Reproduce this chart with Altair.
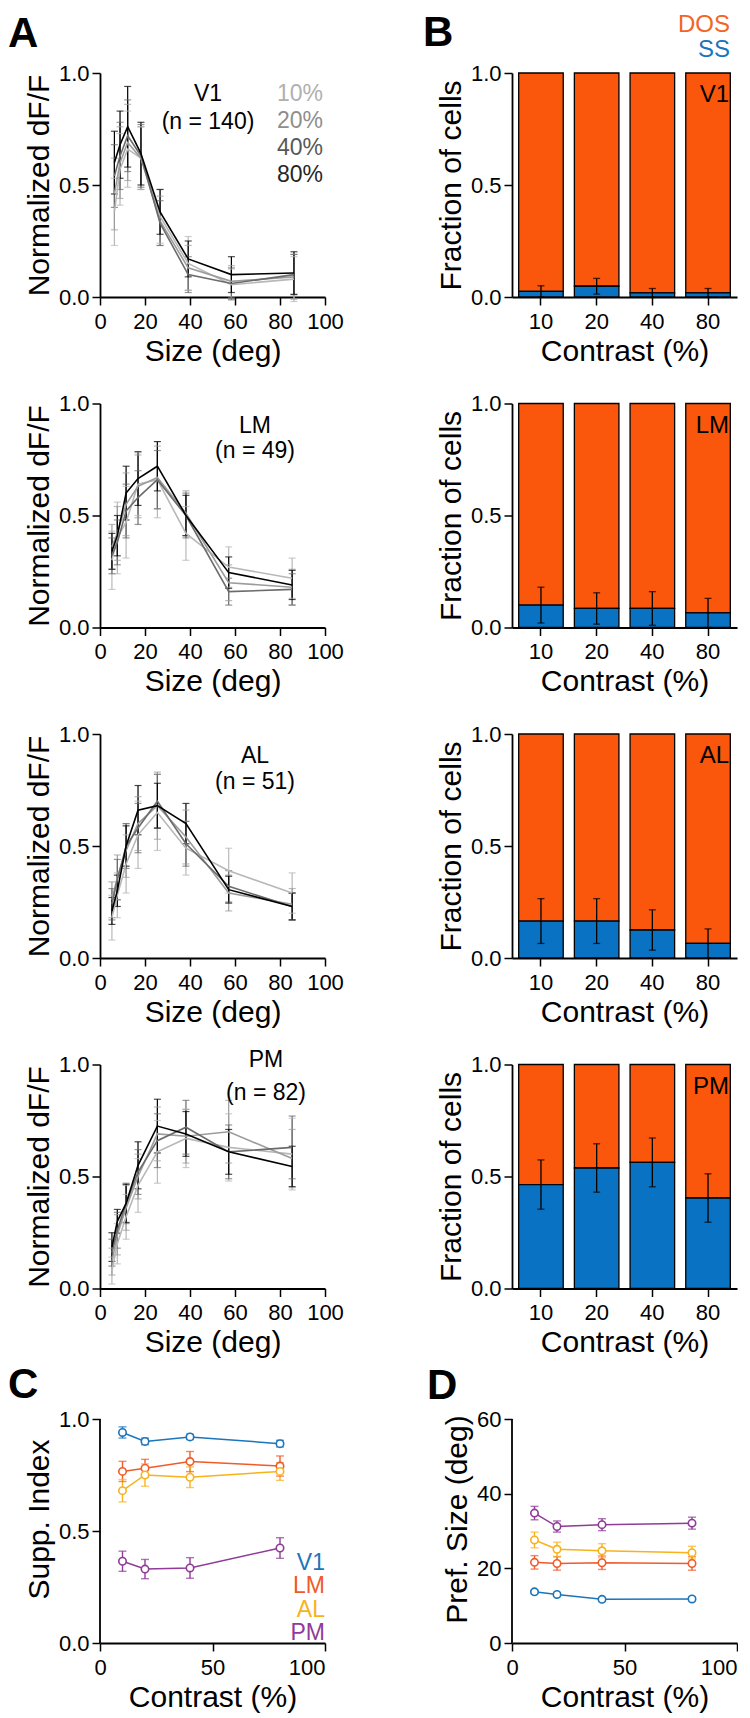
import altair as alt
import pandas as pd

FONT = "Liberation Sans"

# ---------------- Panel A: size tuning curves ----------------
contrast_levels = ["10%", "20%", "40%", "80%"]
contrast_line_colors = ["#b8b8b8", "#9c9c9c", "#6b6b6b", "#000000"]
contrast_text_colors = ["#b0b0b0", "#8e8e8e", "#585858", "#262626"]

sizes_v1 = [6.4, 8.9, 12.3, 18.2, 26.7, 39.2, 58.4, 86.2]
sizes_hva = [5.3, 7.7, 11.6, 16.9, 25.5, 38.2, 57.2, 85.4]

v1_mean_10 = [0.38, 0.57, 0.66, 0.62, 0.36, 0.15, 0.055, 0.08]
v1_mean_20 = [0.46, 0.60, 0.69, 0.62, 0.34, 0.13, 0.07, 0.09]
v1_mean_40 = [0.54, 0.63, 0.72, 0.63, 0.33, 0.10, 0.06, 0.10]
v1_mean_80 = [0.60, 0.68, 0.76, 0.64, 0.38, 0.17, 0.10, 0.107]
v1_err_10 = [0.15, 0.16, 0.17, 0.14, 0.12, 0.12, 0.07, 0.10]
v1_err_20 = [0.16, 0.16, 0.17, 0.14, 0.11, 0.10, 0.07, 0.10]
v1_err_40 = [0.14, 0.15, 0.16, 0.14, 0.10, 0.08, 0.07, 0.09]
v1_err_80 = [0.14, 0.15, 0.18, 0.14, 0.10, 0.08, 0.08, 0.095]

lm_mean_10 = [0.30, 0.40, 0.47, 0.64, 0.66, 0.42, 0.27, 0.22]
lm_mean_20 = [0.36, 0.42, 0.55, 0.63, 0.67, 0.51, 0.20, 0.18]
lm_mean_40 = [0.32, 0.38, 0.52, 0.58, 0.66, 0.50, 0.16, 0.17]
lm_mean_80 = [0.34, 0.41, 0.60, 0.665, 0.72, 0.50, 0.245, 0.19]
lm_err_10 = [0.13, 0.16, 0.16, 0.14, 0.17, 0.12, 0.09, 0.09]
lm_err_20 = [0.10, 0.12, 0.14, 0.14, 0.14, 0.10, 0.08, 0.08]
lm_err_40 = [0.08, 0.10, 0.12, 0.12, 0.13, 0.10, 0.06, 0.07]
lm_err_80 = [0.08, 0.09, 0.12, 0.12, 0.11, 0.09, 0.07, 0.065]

al_mean_10 = [0.18, 0.28, 0.42, 0.55, 0.65, 0.49, 0.39, 0.29]
al_mean_20 = [0.26, 0.36, 0.48, 0.60, 0.68, 0.54, 0.29, 0.24]
al_mean_40 = [0.24, 0.35, 0.50, 0.58, 0.70, 0.51, 0.32, 0.23]
al_mean_80 = [0.21, 0.30, 0.50, 0.66, 0.68, 0.60, 0.305, 0.23]
al_err_10 = [0.10, 0.10, 0.13, 0.15, 0.17, 0.12, 0.10, 0.09]
al_err_20 = [0.08, 0.10, 0.12, 0.12, 0.15, 0.12, 0.08, 0.07]
al_err_40 = [0.07, 0.09, 0.10, 0.11, 0.12, 0.10, 0.07, 0.06]
al_err_80 = [0.06, 0.07, 0.09, 0.11, 0.10, 0.09, 0.06, 0.06]

pm_mean_10 = [0.08, 0.20, 0.32, 0.46, 0.61, 0.67, 0.63, 0.60]
pm_mean_20 = [0.12, 0.24, 0.36, 0.50, 0.69, 0.68, 0.70, 0.58]
pm_mean_40 = [0.16, 0.26, 0.38, 0.52, 0.66, 0.72, 0.61, 0.63]
pm_mean_80 = [0.185, 0.30, 0.38, 0.55, 0.725, 0.69, 0.61, 0.545]
pm_err_10 = [0.06, 0.09, 0.10, 0.12, 0.14, 0.13, 0.15, 0.16]
pm_err_20 = [0.06, 0.09, 0.10, 0.10, 0.12, 0.12, 0.14, 0.13]
pm_err_40 = [0.06, 0.08, 0.09, 0.10, 0.12, 0.12, 0.12, 0.14]
pm_err_80 = [0.064, 0.053, 0.085, 0.105, 0.12, 0.10, 0.10, 0.09]

# ---------------- Panel B: fraction of SS cells ----------------
contrast_ticks = ["10", "20", "40", "80"]
ss_v1 = [0.025, 0.048, 0.018, 0.018]
ss_v1_err = [0.025, 0.035, 0.02, 0.02]
ss_lm = [0.10, 0.085, 0.085, 0.065]
ss_lm_err = [0.08, 0.07, 0.075, 0.065]
ss_al = [0.165, 0.165, 0.125, 0.065]
ss_al_err = [0.10, 0.10, 0.09, 0.065]
ss_pm = [0.464, 0.538, 0.563, 0.404]
ss_pm_err = [0.11, 0.108, 0.109, 0.108]
DOS_COLOR = "#fa560c"
SS_COLOR = "#0a72c2"

# ---------------- Panels C & D ----------------
areas = ["V1", "LM", "AL", "PM"]
area_colors = ["#1b75bb", "#f15a29", "#f8b21c", "#8f3b97"]
contrast_values = [10, 20, 40, 80]

supp_v1 = [0.94, 0.90, 0.92, 0.89]
supp_lm = [0.766, 0.78, 0.81, 0.79]
supp_al = [0.68, 0.75, 0.74, 0.766]
supp_pm = [0.365, 0.33, 0.335, 0.424]
supp_v1_err = [0.025, 0.015, 0.012, 0.015]
supp_lm_err = [0.045, 0.04, 0.045, 0.045]
supp_al_err = [0.05, 0.05, 0.046, 0.04]
supp_pm_err = [0.045, 0.043, 0.046, 0.046]

pref_v1 = [13.7, 13.0, 11.7, 11.8]
pref_lm = [21.6, 21.3, 21.5, 21.3]
pref_al = [27.6, 25.1, 24.7, 24.2]
pref_pm = [34.8, 31.2, 31.7, 32.1]
pref_v1_err = [0.5, 0.5, 0.5, 0.5]
pref_lm_err = [1.8, 1.8, 1.8, 1.8]
pref_al_err = [2.1, 1.9, 1.9, 1.7]
pref_pm_err = [1.8, 1.5, 1.6, 1.6]

PANEL_H = 224
PANEL_W = 225
CD_EXTRA = 24  # extra room above C/D plots


def txt(s, x, y, size=23, color="black", align="center", weight="normal", baseline="middle"):
    return alt.Chart(pd.DataFrame({"t": [s]})).mark_text(
        font=FONT, fontSize=size, color=color, align=align, baseline=baseline, fontWeight=weight
    ).encode(text="t:N", x=alt.value(x), y=alt.value(y))


def letter(s, x, y):
    return txt(s, x, y, size=42, weight="bold", align="left", baseline="top")


def long_a(sizes, means, errs):
    rows = []
    for c, m, e in zip(contrast_levels, means, errs):
        for s, mv, ev in zip(sizes, m, e):
            rows.append({"size": s, "resp": mv, "lo": mv - ev, "hi": mv + ev, "contrast": c})
    return pd.DataFrame(rows)


def panel_a(df, area, ntext, lx, ly1, ly2, extra=()):
    def X(f):
        return alt.X(f, scale=alt.Scale(domain=[0, 100], nice=False),
                     axis=alt.Axis(values=[0, 20, 40, 60, 80, 100], title="Size (deg)"))

    def Y(f):
        return alt.Y(f, scale=alt.Scale(domain=[0, 1], nice=False),
                     axis=alt.Axis(values=[0, 0.5, 1], format=".1f", title="Normalized dF/F"))

    color = alt.Color("contrast:N", scale=alt.Scale(domain=contrast_levels, range=contrast_line_colors),
                      legend=None)
    base = alt.Chart(df)
    errs = base.mark_rule(strokeWidth=1.2).encode(x=X("size:Q"), y=Y("lo:Q"), y2="hi:Q", color=color)
    caps = base.transform_fold(["lo", "hi"], as_=["k", "v"]).mark_tick(
        orient="horizontal", size=7, thickness=1.2
    ).encode(x=X("size:Q"), y=Y("v:Q"), color=color)
    lines = base.mark_line(strokeWidth=1.6).encode(x=X("size:Q"), y=Y("resp:Q"), color=color)
    layers = [errs, caps, lines, txt(area, lx, ly1), txt(ntext, lx, ly2)] + list(extra)
    return alt.layer(*layers).properties(width=PANEL_W, height=PANEL_H)


def panel_b(ss, err, area, extra=()):
    df = pd.DataFrame({"contrast": contrast_ticks, "ss": ss, "err": err})
    df["lo"] = df["ss"] - df["err"]
    df["hi"] = df["ss"] + df["err"]
    df["zero"] = 0.0
    df["one"] = 1.0

    X = alt.X("contrast:N", sort=contrast_ticks,
              scale=alt.Scale(paddingInner=0.2, paddingOuter=0.12),
              axis=alt.Axis(title="Contrast (%)", labelAngle=0))

    def Y(f):
        return alt.Y(f, scale=alt.Scale(domain=[0, 1], nice=False),
                     axis=alt.Axis(values=[0, 0.5, 1], format=".1f", title="Fraction of cells"))

    base = alt.Chart(df)
    dos = base.mark_bar(fill=DOS_COLOR, stroke="black", strokeWidth=1.3).encode(x=X, y=Y("ss:Q"), y2="one:Q")
    ssb = base.mark_bar(fill=SS_COLOR, stroke="black", strokeWidth=1.3).encode(x=X, y=Y("zero:Q"), y2="ss:Q")
    rule = base.mark_rule(color="black", strokeWidth=1.3).encode(x=X, y=Y("lo:Q"), y2="hi:Q")
    caps = base.transform_fold(["lo", "hi"], as_=["k", "v"]).mark_tick(
        color="black", size=7, thickness=1.3
    ).encode(x=X, y=Y("v:Q"))
    layers = [dos, ssb, rule, caps, txt(area, 217, 22, size=24, align="right")] + list(extra)
    return alt.layer(*layers).properties(width=PANEL_W, height=PANEL_H)


def long_cd(vals, errs):
    rows = []
    for a, v, e in zip(areas, vals, errs):
        for c, vv, ee in zip(contrast_values, v, e):
            rows.append({"contrast": c, "val": vv, "lo": vv - ee, "hi": vv + ee, "area": a})
    return pd.DataFrame(rows)


def panel_cd(df, ytitle, ymax, yvalues, yfmt, extra=()):
    dom_max = ymax * (PANEL_H + CD_EXTRA) / PANEL_H

    def X(f):
        return alt.X(f, scale=alt.Scale(domain=[0, 100], nice=False),
                     axis=alt.Axis(values=[0, 50, 100], title="Contrast (%)",
                                   labelAlign={"condition": {"test": "datum.value >= 100", "value": "right"},
                                               "value": "center"}))

    def Y(f):
        return alt.Y(f, scale=alt.Scale(domain=[0, dom_max], nice=False),
                     axis=alt.Axis(values=yvalues, format=yfmt, title=ytitle, domain=False))

    color = alt.Color("area:N", scale=alt.Scale(domain=areas, range=area_colors), legend=None)
    base = alt.Chart(df)
    axis_line = alt.Chart(pd.DataFrame({"lo": [0.0], "hi": [float(ymax)]})).mark_rule(
        color="black", strokeWidth=1.8
    ).encode(x=alt.value(0), y=Y("lo:Q"), y2="hi:Q")
    errs = base.mark_rule(strokeWidth=1.4).encode(x=X("contrast:Q"), y=Y("lo:Q"), y2="hi:Q", color=color)
    caps = base.transform_fold(["lo", "hi"], as_=["k", "v"]).mark_tick(
        orient="horizontal", size=8, thickness=1.4
    ).encode(x=X("contrast:Q"), y=Y("v:Q"), color=color)
    lines = base.mark_line(strokeWidth=1.5).encode(x=X("contrast:Q"), y=Y("val:Q"), color=color)
    pts = base.mark_point(shape="circle", filled=False, fill="white", fillOpacity=1, size=55,
                          strokeWidth=1.6, opacity=1).encode(x=X("contrast:Q"), y=Y("val:Q"), color=color)
    layers = [axis_line, errs, caps, lines, pts] + list(extra)
    return alt.layer(*layers).properties(width=PANEL_W, height=PANEL_H + CD_EXTRA)


legend_a = [txt(c, 223, 21 + 27 * i, color=col, align="right")
            for i, (c, col) in enumerate(zip(contrast_levels, contrast_text_colors))]

a1 = panel_a(long_a(sizes_v1, [v1_mean_10, v1_mean_20, v1_mean_40, v1_mean_80],
                    [v1_err_10, v1_err_20, v1_err_40, v1_err_80]),
             "V1", "(n = 140)", 108, 21, 49, extra=[letter("A", -92, -59)] + legend_a)
a2 = panel_a(long_a(sizes_hva, [lm_mean_10, lm_mean_20, lm_mean_40, lm_mean_80],
                    [lm_err_10, lm_err_20, lm_err_40, lm_err_80]),
             "LM", "(n = 49)", 155, 22, 47)
a3 = panel_a(long_a(sizes_hva, [al_mean_10, al_mean_20, al_mean_40, al_mean_80],
                    [al_err_10, al_err_20, al_err_40, al_err_80]),
             "AL", "(n = 51)", 155, 22, 48)
a4 = panel_a(long_a(sizes_hva, [pm_mean_10, pm_mean_20, pm_mean_40, pm_mean_80],
                    [pm_err_10, pm_err_20, pm_err_40, pm_err_80]),
             "PM", "(n = 82)", 166, -5, 28)

b1 = panel_b(ss_v1, ss_v1_err, "V1",
             extra=[letter("B", -89, -60),
                    txt("DOS", 218, -48, size=24, color="#f26522", align="right"),
                    txt("SS", 218, -23, size=24, color="#1a75bc", align="right")])
b2 = panel_b(ss_lm, ss_lm_err, "LM")
b3 = panel_b(ss_al, ss_al_err, "AL")
b4 = panel_b(ss_pm, ss_pm_err, "PM")

legend_c = [txt(a, 225, 168 + 23.3 * i, size=23, color=col, align="right")
            for i, (a, col) in enumerate(zip(areas, area_colors))]

c = panel_cd(long_cd([supp_v1, supp_lm, supp_al, supp_pm],
                     [supp_v1_err, supp_lm_err, supp_al_err, supp_pm_err]),
             "Supp. Index", 1.0, [0, 0.5, 1], ".1f",
             extra=[letter("C", -92, -30)] + legend_c)
d = panel_cd(long_cd([pref_v1, pref_lm, pref_al, pref_pm],
                     [pref_v1_err, pref_lm_err, pref_al_err, pref_pm_err]),
             "Pref. Size (deg)", 60, [0, 20, 40, 60], "d",
             extra=[letter("D", -85, -29)])

chart = alt.concat(
    a1, b1, a2, b2, a3, b3, a4, b4, c, d,
    columns=2, spacing={"row": 106.5, "column": 187}, bounds="flush", align="each"
).resolve_scale(
    color="independent"
).properties(
    padding={"left": 0, "top": 4, "right": 0, "bottom": 5}
).configure_view(stroke=None).configure_axis(
    domainColor="black", domainWidth=1.8, tickColor="black", tickWidth=1.5, tickSize=8,
    labelFont=FONT, labelFontSize=22, labelColor="black",
    titleFont=FONT, titleFontSize=30, titleFontWeight="normal", titleColor="black",
    titlePadding=4, grid=False, labelFlush=False, labelOverlap=False
).configure_axisX(labelPadding=6).configure_axisY(labelPadding=3)

chart.save("out.html", embed_options={"renderer": "svg", "actions": False})
